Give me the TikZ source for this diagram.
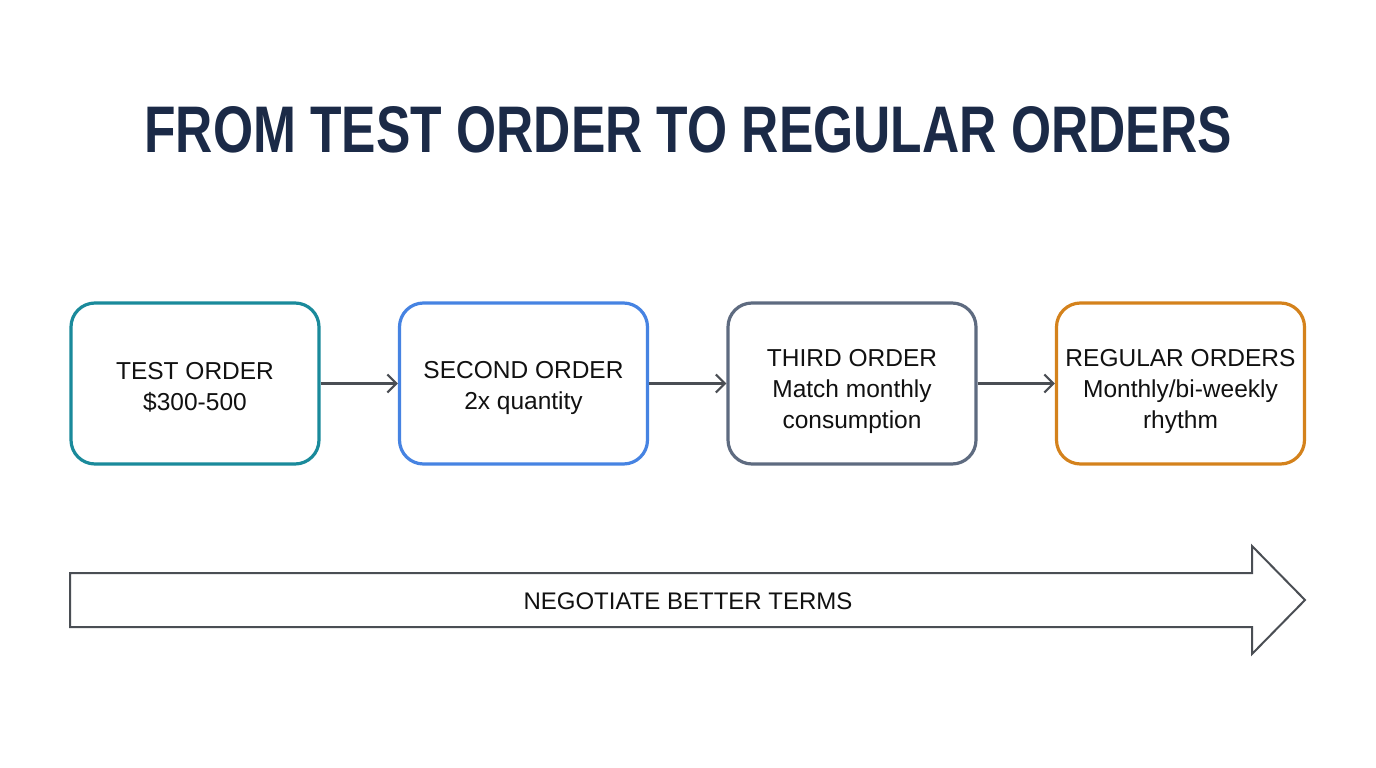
\documentclass[tikz,border=0pt]{standalone}
\usepackage{fontspec}
\setmainfont{Liberation Sans}
\usetikzlibrary{arrows.meta}
\definecolor{titlecol}{HTML}{1B2A47}
\definecolor{tealc}{HTML}{1A8A9B}
\definecolor{bluec}{HTML}{4683E2}
\definecolor{slatec}{HTML}{5E6B80}
\definecolor{orangec}{HTML}{D4821C}
\definecolor{linec}{HTML}{4A4E54}
\definecolor{textc}{HTML}{111111}
\tikzset{
  stagebox/.style={draw, line width=3.2pt, rounded corners=24pt, fill=white,
    minimum width=248pt, minimum height=161pt},
  stagetext/.style={align=center, text=textc, inner sep=0pt,
    font=\fontsize{24.5}{31}\selectfont},
  conn/.style={draw=linec, line width=2.2pt, -{Straight Barb[length=9pt,width=18pt,line width=2.2pt]}},
  bigarrow/.style={draw=linec, line width=2pt, fill=white, line join=miter},
}
\begin{document}
\begin{tikzpicture}[x=1pt,y=-1pt]
\useasboundingbox[fill=white] (0,0) rectangle (1376,768);
\node[text=titlecol, inner sep=0pt] (title) at (688,130)
  {\resizebox{1087pt}{46pt}{\bfseries FROM TEST ORDER TO REGULAR ORDERS}};
\node[stagebox, draw=tealc] (b1) at (195,383.5) {};
\node[stagebox, draw=bluec] (b2) at (523.5,383.5) {};
\node[stagebox, draw=slatec] (b3) at (852,383.5) {};
\node[stagebox, draw=orangec] (b4) at (1180.5,383.5) {};
\node[stagetext] (t1) at ([yshift=-4pt]b1.center) {TEST ORDER\\\$300-500};
\node[stagetext] (t2) at ([yshift=-4pt]b2.center) {SECOND ORDER\\2x quantity};
\node[stagetext] (t3) at ([yshift=-8pt]b3.center) {THIRD ORDER\\Match monthly\\consumption};
\node[stagetext] (t4) at ([yshift=-8pt]b4.center) {REGULAR ORDERS\\Monthly/bi-weekly\\rhythm};
\draw[conn] (b1) -- (b2);
\draw[conn] (b2) -- (b3);
\draw[conn] (b3) -- (b4);
\draw[bigarrow] (70,573) -- (1252,573) -- (1252,546) -- (1305,600) -- (1252,654) -- (1252,627) -- (70,627) -- cycle;
\node[text=textc, font=\fontsize{24}{28}\selectfont] (terms) at (688,601) {NEGOTIATE BETTER TERMS};
\end{tikzpicture}
\end{document}
